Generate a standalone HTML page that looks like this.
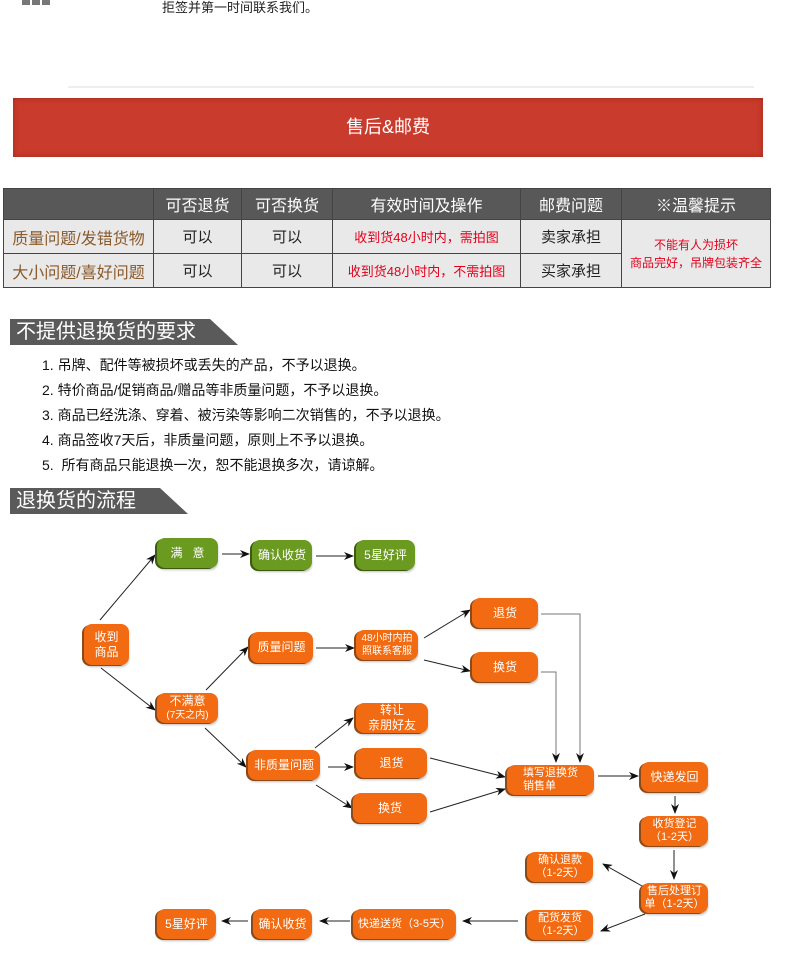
<!DOCTYPE html>
<html><head><meta charset="utf-8">
<style>
*{margin:0;padding:0;box-sizing:border-box}
body{width:790px;height:962px;background:#fff;position:relative;overflow:hidden;font-family:"Liberation Sans","Noto Sans CJK SC",sans-serif}
.a{position:absolute}
.n{position:absolute;border-radius:8px;color:#fff;display:flex;align-items:center;justify-content:center;text-align:center;font-size:12px;line-height:15px;box-shadow:-2px 1px 0 #8a4a1a,0 2px 2px rgba(0,0,0,.25)}
.n>div{width:100%}
.o{background:#f26b12}
.g{background:#6b9a20;box-shadow:-2px 1px 0 #3d5a10,0 2px 2px rgba(0,0,0,.25)}
table{border-collapse:collapse;position:absolute;left:3px;top:188px;width:768px}
td{border:1px solid #444;text-align:center;font-size:15px;height:34px;background:#e9e9e9;color:#222}
tr.h td{background:#585858;color:#fff;height:31px;font-size:16px}
.br{color:#8b5a2b;font-size:16px}
.rd{color:#e3001b;font-size:13px}
.sec{position:absolute;left:10px;height:26px;background:#5a5a5a;color:#fff;font-size:20px;line-height:26px;padding-left:6px}
.sec:after{content:"";position:absolute;right:-28px;top:0;width:0;height:0;border-bottom:26px solid #5a5a5a;border-right:28px solid transparent}
.li{position:absolute;left:42px;font-size:14px;color:#111}
</style></head><body>
<div class="a" style="left:22px;top:0;width:28px;height:5px;background:repeating-linear-gradient(90deg,#777 0 8px,#fff 8px 10px)"></div>
<div class="a" style="left:162px;top:-3px;font-size:13px;color:#222">拒签并第一时间联系我们。</div>
<div class="a" style="left:68px;top:86px;width:686px;height:2px;background:#eee"></div>
<div class="a" style="left:13px;top:98px;width:750px;height:59px;background:#c93b2c;box-shadow:inset 0 0 6px #a02a1e;color:#fff;font-size:18px;line-height:59px;text-align:center">售后&amp;邮费</div>
<table>
<tr class="h"><td style="width:150px"></td><td style="width:88px">可否退货</td><td style="width:91px">可否换货</td><td style="width:188px">有效时间及操作</td><td style="width:101px">邮费问题</td><td>※温馨提示</td></tr>
<tr><td class="br">质量问题/发错货物</td><td>可以</td><td>可以</td><td class="rd">收到货48小时内，需拍图</td><td>卖家承担</td><td rowspan="2" class="rd" style="font-size:12px;line-height:18px">不能有人为损坏<br>商品完好，吊牌包装齐全</td></tr>
<tr><td class="br">大小问题/喜好问题</td><td>可以</td><td>可以</td><td class="rd">收到货48小时内，不需拍图</td><td>买家承担</td></tr>
</table>
<div class="sec" style="top:319px;width:200px">不提供退换货的要求</div>
<div class="li" style="top:355px">1. 吊牌、配件等被损坏或丢失的产品，不予以退换。</div>
<div class="li" style="top:380px">2. 特价商品/促销商品/赠品等非质量问题，不予以退换。</div>
<div class="li" style="top:405px">3. 商品已经洗涤、穿着、被污染等影响二次销售的，不予以退换。</div>
<div class="li" style="top:430px">4. 商品签收7天后，非质量问题，原则上不予以退换。</div>
<div class="li" style="top:455px">5.&nbsp; 所有商品只能退换一次，恕不能退换多次，请谅解。</div>
<div class="sec" style="top:488px;width:150px">退换货的流程</div>

<svg class="a" style="left:0;top:0" width="790" height="962">
<defs><marker id="m" markerWidth="10" markerHeight="8" refX="9" refY="4" orient="auto" markerUnits="userSpaceOnUse"><path d="M0,0 L10,4 L0,8 L3,4z" fill="#111"/></marker></defs>
<g stroke="#222" stroke-width="1" fill="none" marker-end="url(#m)">
<line x1="100" y1="620" x2="155" y2="555"/>
<line x1="101" y1="668" x2="155" y2="710"/>
<line x1="222" y1="554" x2="249" y2="554"/>
<line x1="316" y1="556" x2="353" y2="556"/>
<line x1="206" y1="690" x2="248" y2="647"/>
<line x1="316" y1="648" x2="354" y2="648"/>
<line x1="205" y1="728" x2="246" y2="767"/>
<line x1="424" y1="638" x2="470" y2="610"/>
<line x1="424" y1="660" x2="470" y2="671"/>
<line x1="315" y1="748" x2="353" y2="718"/>
<line x1="328" y1="767" x2="353" y2="767"/>
<line x1="316" y1="785" x2="352" y2="808"/>
<line x1="430" y1="758" x2="505" y2="777"/>
<line x1="430" y1="812" x2="505" y2="789"/>
<line x1="598" y1="776" x2="638" y2="776"/>
<line x1="675" y1="796" x2="675" y2="813"/>
<line x1="674" y1="850" x2="674" y2="879"/>
<line x1="642" y1="886" x2="603" y2="864"/>
<line x1="645" y1="914" x2="601" y2="931"/>
<line x1="518" y1="921" x2="463" y2="921"/>
<line x1="350" y1="921" x2="320" y2="921"/>
<line x1="248" y1="921" x2="222" y2="921"/>
</g>
<g stroke="#777" stroke-width="1" fill="none" marker-end="url(#m)">
<polyline points="541,614 580,614 580,762"/>
<polyline points="541,672 556,672 556,762"/>
</g>
</svg>

<div class="n g" style="left:157px;top:538px;width:61px;height:30px"><div>满&nbsp;&nbsp;&nbsp;意</div></div>
<div class="n g" style="left:252px;top:540px;width:60px;height:30px"><div>确认收货</div></div>
<div class="n g" style="left:356px;top:540px;width:59px;height:30px"><div>5星好评</div></div>
<div class="n o" style="left:84px;top:624px;width:45px;height:41px"><div>收到<br>商品</div></div>
<div class="n o" style="left:157px;top:693px;width:61px;height:30px"><div style="line-height:13px">不满意<br><span style="font-size:10px">(7天之内)</span></div></div>
<div class="n o" style="left:250px;top:632px;width:63px;height:31px"><div>质量问题</div></div>
<div class="n o" style="left:356px;top:630px;width:62px;height:30px"><div style="font-size:10px;line-height:13px">48小时内拍<br>照联系客服</div></div>
<div class="n o" style="left:472px;top:598px;width:66px;height:30px"><div>退货</div></div>
<div class="n o" style="left:472px;top:652px;width:66px;height:30px"><div>换货</div></div>
<div class="n o" style="left:356px;top:703px;width:72px;height:30px"><div>转让<br>亲朋好友</div></div>
<div class="n o" style="left:248px;top:750px;width:72px;height:30px"><div>非质量问题</div></div>
<div class="n o" style="left:356px;top:748px;width:71px;height:30px"><div>退货</div></div>
<div class="n o" style="left:353px;top:793px;width:74px;height:30px"><div>换货</div></div>
<div class="n o" style="left:507px;top:765px;width:87px;height:30px"><div style="font-size:11px;line-height:13px;text-align:left;padding-left:16px">填写退换货<br>销售单</div></div>
<div class="n o" style="left:641px;top:762px;width:67px;height:30px"><div>快递发回</div></div>
<div class="n o" style="left:641px;top:816px;width:67px;height:30px"><div style="font-size:11px;line-height:13px">收货登记<br>（1-2天）</div></div>
<div class="n o" style="left:527px;top:852px;width:66px;height:30px"><div style="font-size:11px;line-height:13px">确认退款<br>（1-2天）</div></div>
<div class="n o" style="left:641px;top:883px;width:67px;height:30px"><div style="font-size:11px;line-height:13px">售后处理订<br>单（1-2天）</div></div>
<div class="n o" style="left:527px;top:910px;width:66px;height:30px"><div style="font-size:11px;line-height:13px">配货发货<br>（1-2天）</div></div>
<div class="n o" style="left:353px;top:909px;width:103px;height:30px"><div style="font-size:11px">快递送货（3-5天）</div></div>
<div class="n o" style="left:253px;top:909px;width:59px;height:30px"><div>确认收货</div></div>
<div class="n o" style="left:157px;top:909px;width:59px;height:30px"><div>5星好评</div></div>
</body></html>
